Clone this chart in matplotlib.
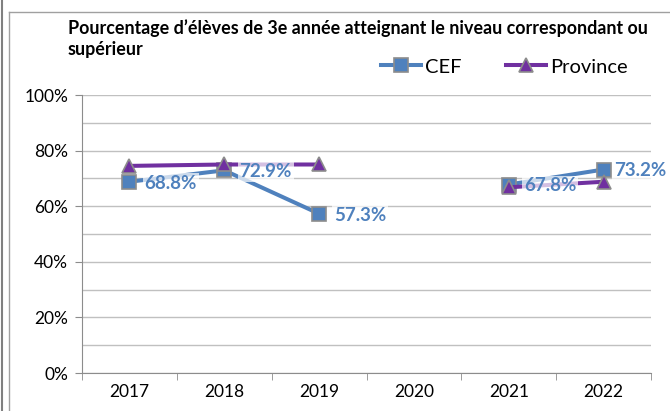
import matplotlib.pyplot as plt
from matplotlib.lines import Line2D
import numpy as np

years = ['2017', '2018', '2019', '2020', '2021', '2022']
cef = [68.8, 72.9, 57.3, np.nan, 67.8, 73.2]
province = [74.5, 75.0, 75.0, np.nan, 66.8, 68.8]
cef_labels = ['68.8%', '72.9%', '57.3%', '', '67.8%', '73.2%']
title_lines = ["Pourcentage d’élèves de 3e année atteignant le niveau correspondant ou",
               "supérieur"]

plt.rcParams['font.family'] = ['Lato', 'DejaVu Sans']

W, H = 670, 411
fig = plt.figure(figsize=(W / 100, H / 100), dpi=100)
ax = fig.add_axes([82 / W, 1 - 373 / H, (651 - 82) / W, 278 / H])

x = np.arange(len(years))
ax.plot(x, cef, color='#4F81BD', lw=2.9, marker='s', ms=10, mfc='#4F81BD',
        mec='#8c8c8c', mew=1.2, label='CEF', zorder=3)
ax.plot(x, province, color='#7030A0', lw=2.9, marker='^', ms=10, mfc='#7030A0',
        mec='#8c8c8c', mew=1.2, label='Province', zorder=4)

# data labels for CEF (last one pulled in a bit so it fits)
for i, (xi, v, lab) in enumerate(zip(x, cef, cef_labels)):
    if lab:
        dx = 7.5 if i == len(x) - 1 else 11
        ax.annotate(lab, (xi, v), xytext=(dx, -1), textcoords='offset points',
                    ha='left', va='center', fontsize=13.5, fontweight='bold',
                    color='#4F81BD', zorder=6,
                    bbox=dict(boxstyle='square,pad=0.1', fc='white', ec='none', alpha=0.7))

ax.set_xlim(-0.5, len(years) - 0.5)
ax.set_ylim(0, 100)
ax.set_yticks(np.arange(0, 101, 20))
ax.set_yticklabels([f'{v}%' for v in range(0, 101, 20)], fontsize=12.5)
ax.set_yticks(np.arange(0, 101, 10), minor=True)
ax.set_xticks(x)
ax.set_xticklabels(years, fontsize=12.5)
ax.set_xticks(np.arange(-0.5, len(years)), minor=True)
ax.tick_params(axis='x', which='major', length=0, pad=8)
ax.tick_params(axis='x', which='minor', length=5, color='#8c8c8c')
ax.tick_params(axis='y', which='major', length=5, color='#8c8c8c', pad=5)
ax.tick_params(axis='y', which='minor', length=0)
ax.grid(axis='y', which='both', color='#c0c0c0', lw=1)
ax.set_axisbelow(True)
for s in ['top', 'right']:
    ax.spines[s].set_visible(False)
for s in ['left', 'bottom']:
    ax.spines[s].set_color('#8c8c8c')

fig.text(68 / W, 1 - 28 / H, title_lines[0], fontsize=12.85, fontweight='bold', va='center')
fig.text(68 / W, 1 - 50 / H, title_lines[1], fontsize=12.85, fontweight='bold', va='center')

fig.legend(loc='center left', bbox_to_anchor=(381 / W, 1 - 67 / H), ncol=2,
           frameon=False, fontsize=14.5, handlelength=2.0, handletextpad=0.2,
           columnspacing=2.2, borderaxespad=0, borderpad=0)

# chart borders
fig.add_artist(Line2D([2 / W, 2 / W], [0, 1], transform=fig.transFigure, color='#808080', lw=1.5))
fig.add_artist(Line2D([9 / W, 9 / W], [0, 1 - 12 / H], transform=fig.transFigure, color='#a0a0a0', lw=1))
fig.add_artist(Line2D([9 / W, 1], [1 - 12 / H, 1 - 12 / H], transform=fig.transFigure, color='#a0a0a0', lw=1))

fig.savefig('out.png', dpi=100)
